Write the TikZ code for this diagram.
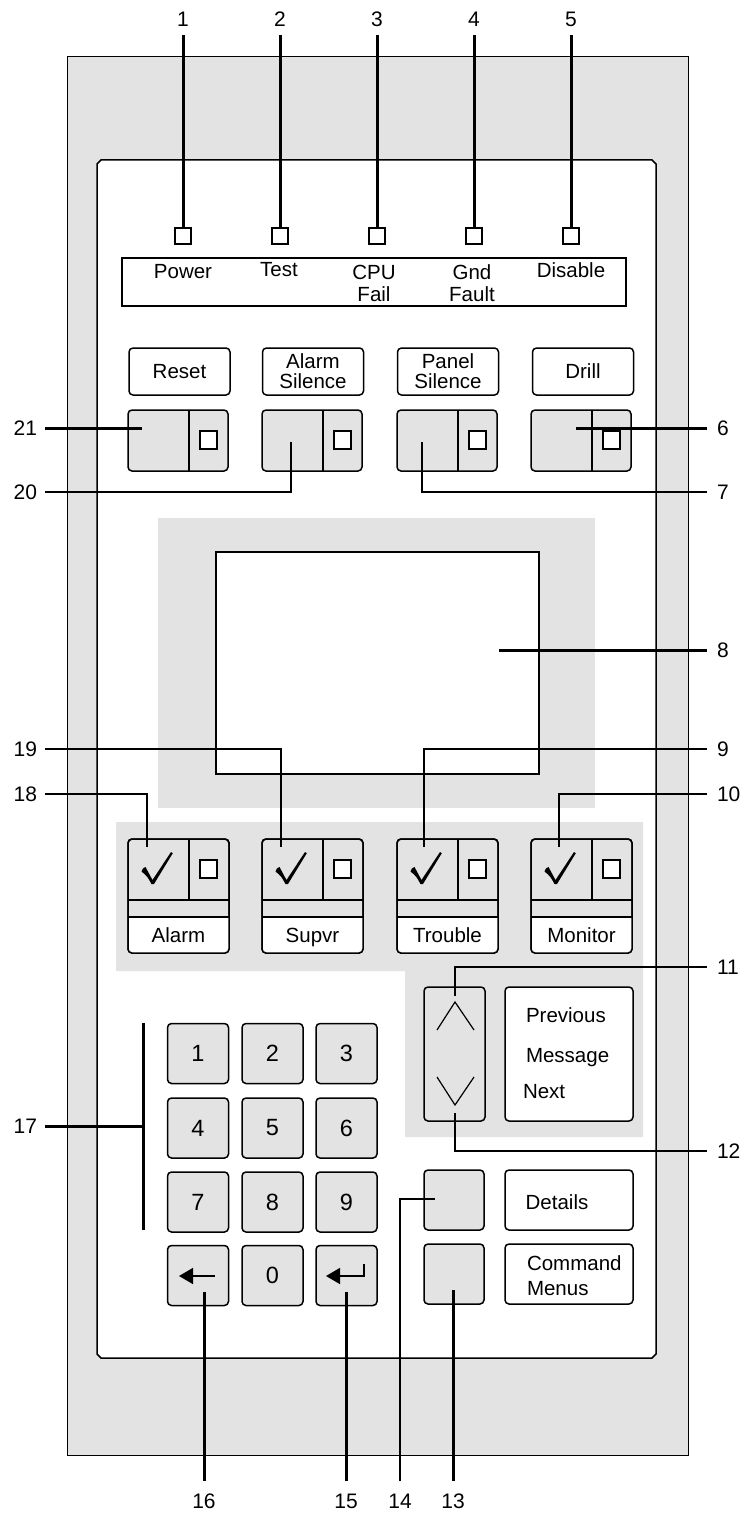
\documentclass[tikz,border=0pt]{standalone}
\usepackage{fontspec}
\setmainfont{Liberation Sans}
\usetikzlibrary{arrows.meta}
\definecolor{pgray}{RGB}{227,227,227}
\tikzset{
 panelbg/.style={fill=pgray, draw=black, line width=1pt},
 btnline/.style={line width=1.5pt},
 whitebox/.style={draw, fill=white, line width=1.5pt, rounded corners=4pt},
 greybox/.style={draw, fill=pgray, line width=1.5pt, rounded corners=4pt},
 sq/.style={draw, fill=white, line width=1.3pt, minimum width=17pt, minimum height=18pt},
 led/.style={draw, fill=white, line width=1.3pt, minimum width=16pt, minimum height=16pt},
 txt/.style={font=\fontsize{20.5}{20}\selectfont},
 keytxt/.style={font=\fontsize{23.5}{23.5}\selectfont},
 numlab/.style={font=\fontsize{21}{21}\selectfont},
 lnum/.style={numlab, anchor=east, inner xsep=8pt},
 rnum/.style={numlab, anchor=west, inner xsep=10pt},
 tnum/.style={numlab, anchor=south, inner ysep=8pt},
 bnum/.style={numlab, anchor=north, inner ysep=13pt},
 lead/.style={line width=3pt},
 leadm/.style={line width=2pt},
 arrtip/.style={line width=1.5pt, -{Triangle[length=14pt,width=16pt]}},
 checkfill/.style={fill=black, line join=round},
}
\begin{document}
\begin{tikzpicture}[x=1pt,y=-1pt, every node/.style={inner sep=0pt, outer sep=0pt}]
\useasboundingbox (0,0) rectangle (749,1517);

% outer and inner panels
\node[panelbg, minimum width=621pt, minimum height=1398pt] (outer) at (377.5,756) {};
\draw[fill=white, line width=1.5pt] (101,160) -- (652,160) -- (656,164) -- (656,1354) -- (652,1358) -- (101,1358) -- (97,1354) -- (97,164) -- cycle;

% LED strip
\node[draw, fill=white, line width=1.5pt, minimum width=504pt, minimum height=48pt] (ledbox) at (374,282) {};
\foreach \i/\x in {1/183,2/280,3/377,4/474,5/571}
  \node[led] (led\i) at (\x,236) {};
\node[txt, anchor=base] (tpower) at (183,278) {Power};
\node[txt, anchor=base] (ttest) at (279,276) {Test};
\node[txt, anchor=base] (tcpu) at (374,279) {CPU};
\node[txt, anchor=base] (tfail) at (374,301) {Fail};
\node[txt, anchor=base] (tgnd) at (472,279) {Gnd};
\node[txt, anchor=base] (tfault) at (472,301) {Fault};
\node[txt, anchor=base] (tdis) at (571,277) {Disable};

% label boxes
\node[whitebox, minimum width=101pt, minimum height=47pt] (lbReset) at (179.5,371.5) {};
\node[txt] (tReset) at (lbReset) {Reset};
\node[whitebox, minimum width=101pt, minimum height=47pt] (lbAlarm) at (313,371.5) {};
\node[txt, align=center] (tAlarm) at (lbAlarm) {Alarm\\Silence};
\node[whitebox, minimum width=101pt, minimum height=47pt] (lbPanel) at (448,371.5) {};
\node[txt, align=center] (tPanel) at (lbPanel) {Panel\\Silence};
\node[whitebox, minimum width=101pt, minimum height=47pt] (lbDrill) at (583,371.5) {};
\node[txt] (tDrill) at (lbDrill) {Drill};

% grey push buttons
\foreach \n/\x in {1/128,2/262,3/397,4/531} {
  \node[greybox, minimum width=100pt, minimum height=61pt] (gb\n) at ({\x+50},440.5) {};
  \draw[btnline] ({\x+61},410) -- ({\x+61},471);
  \node[sq] (gsq\n) at ({\x+80.5},440) {};
}

% display
\node[fill=pgray, minimum width=437pt, minimum height=290pt] (screenbg) at (376.5,663) {};
\node[draw, fill=white, line width=1.2pt, minimum width=323pt, minimum height=222pt] (screen) at (377.5,663) {};

% lower grey area
\fill[pgray] (116,822) -- (643,822) -- (643,1137) -- (405,1137) -- (405,971) -- (116,971) -- cycle;

% status buttons
\foreach \n/\x/\t in {1/128/Alarm,2/262/Supvr,3/397/Trouble,4/531/Monitor} {
  \node[greybox, minimum width=101pt, minimum height=114pt] (sb\n) at ({\x+50.5},896) {};
  \begin{scope}
    \clip[rounded corners=4pt] (\x,839) rectangle ({\x+101},953);
    \fill[white] (\x,917) rectangle ({\x+101},953);
  \end{scope}
  \draw[btnline, rounded corners=4pt] (\x,839) rectangle ({\x+101},953);
  \draw[btnline] (\x,900) -- ({\x+101},900) (\x,917) -- ({\x+101},917) ({\x+61},839) -- ({\x+61},900);
  \node[sq] (ssq\n) at ({\x+80.5},869) {};
  \fill[checkfill] ({\x+13.5},871.5) .. controls ({\x+15},868) .. ({\x+17.5},867) -- ({\x+24.5},880) -- ({\x+43},852) -- ({\x+44.8},853.2) -- ({\x+26},884) -- ({\x+23.5},884) .. controls ({\x+19},876) .. cycle;
  \node[txt, anchor=base] (stx\n) at ({\x+50.5},942) {\t};
}

% message scroll
\node[greybox, minimum width=61pt, minimum height=134pt] (updown) at (454.5,1054) {};
\draw[line width=1.2pt] (437,1030) -- (455,1002) -- (474,1030);
\draw[line width=1.2pt] (437,1077) -- (455,1105) -- (474,1077);
\node[whitebox, minimum width=128pt, minimum height=134pt] (msg) at (569,1054) {};
\node[txt, anchor=base west] (tprev) at (526,1022) {Previous};
\node[txt, anchor=base west] (tmsg) at (526,1062) {Message};
\node[txt, anchor=base west] (tnext) at (523,1098) {Next};

% keypad
\foreach \t/\x/\y in {1/198/1053.5, 2/272.5/1053.5, 3/346.5/1053.5,
                      4/198/1128, 5/272.5/1128, 6/346.5/1128,
                      7/198/1202, 8/272.5/1202, 9/346.5/1202, 0/272.5/1275.5}
  \node[greybox, keytxt, minimum width=61pt, minimum height=60pt] (k\t) at (\x,\y) {\t};
\node[greybox, minimum width=61pt, minimum height=60pt] (kback) at (198,1275.5) {};
\node[greybox, minimum width=61pt, minimum height=60pt] (kenter) at (346.5,1275.5) {};
\draw[arrtip] (215,1276) -- (179,1276);
\draw[arrtip] (364,1264) -- (364,1276) -- (326,1276);

% details / command menus
\node[greybox, minimum width=60pt, minimum height=60pt] (bdet) at (454,1200) {};
\node[greybox, minimum width=60pt, minimum height=60pt] (bcmd) at (454,1274) {};
\node[whitebox, minimum width=128pt, minimum height=60pt] (details) at (569,1200) {};
\node[whitebox, minimum width=128pt, minimum height=60pt] (cmdmenus) at (569,1274) {};
\node[txt, anchor=base] (tdet) at (557,1209) {Details};
\node[txt, anchor=base west] (tcmd) at (527,1270) {Command};
\node[txt, anchor=base west] (tmenus) at (527,1295) {Menus};

% callout coordinates
\coordinate (c21) at (142,428);
\coordinate (c6) at (576,428);
\coordinate (c20) at (291,442);
\coordinate (c7) at (422,442);
\coordinate (c8) at (499,650);
\coordinate (c19) at (281,847);
\coordinate (c9) at (424,847);
\coordinate (c18) at (147,847);
\coordinate (c10) at (559,847);
\coordinate (c11) at (455,996);
\coordinate (c12) at (455,1113);
\coordinate (c17) at (143,1126);
\coordinate (b17a) at (143,1023);
\coordinate (b17b) at (143,1230);
\coordinate (c16) at (204,1292);
\coordinate (c15) at (346,1292);
\coordinate (c14) at (435,1199);
\coordinate (c13) at (453,1290);

% callout labels
\foreach \i/\x in {1/183,2/280,3/377,4/474,5/571} {
  \node[tnum] (l\i) at (\x,35) {\i};
  \draw[lead] (l\i) -- (led\i);
}
\node[lnum] (l21) at (45,428) {21};
\node[lnum] (l20) at (45,492) {20};
\node[lnum] (l19) at (45,749) {19};
\node[lnum] (l18) at (45,794) {18};
\node[lnum] (l17) at (45,1126) {17};
\node[rnum] (l6) at (707,428) {6};
\node[rnum] (l7) at (707,492) {7};
\node[rnum] (l8) at (707,650) {8};
\node[rnum] (l9) at (707,749) {9};
\node[rnum] (l10) at (707,794) {10};
\node[rnum] (l11) at (707,967) {11};
\node[rnum] (l12) at (707,1151) {12};
\node[bnum] (l16) at (204,1481) {16};
\node[bnum] (l15) at (346,1481) {15};
\node[bnum] (l14) at (400,1481) {14};
\node[bnum] (l13) at (453,1481) {13};

\draw[lead] (l21) -- (c21);
\draw[lead] (l6) -- (c6);
\draw[leadm] (l20) -| (c20);
\draw[leadm] (l7) -| (c7);
\draw[lead] (l8) -- (c8);
\draw[leadm] (l19) -| (c19);
\draw[leadm] (l9) -| (c9);
\draw[leadm] (l18) -| (c18);
\draw[leadm] (l10) -| (c10);
\draw[leadm] (l11) -| (c11);
\draw[leadm] (l12) -| (c12);
\draw[lead] (l17) -- (c17);
\draw[lead] (b17a) -- (b17b);
\draw[lead] (l16) -- (c16);
\draw[lead] (l15) -- (c15);
\draw[leadm] (l14) |- (c14);
\draw[lead] (l13) -- (c13);
\end{tikzpicture}
\end{document}
